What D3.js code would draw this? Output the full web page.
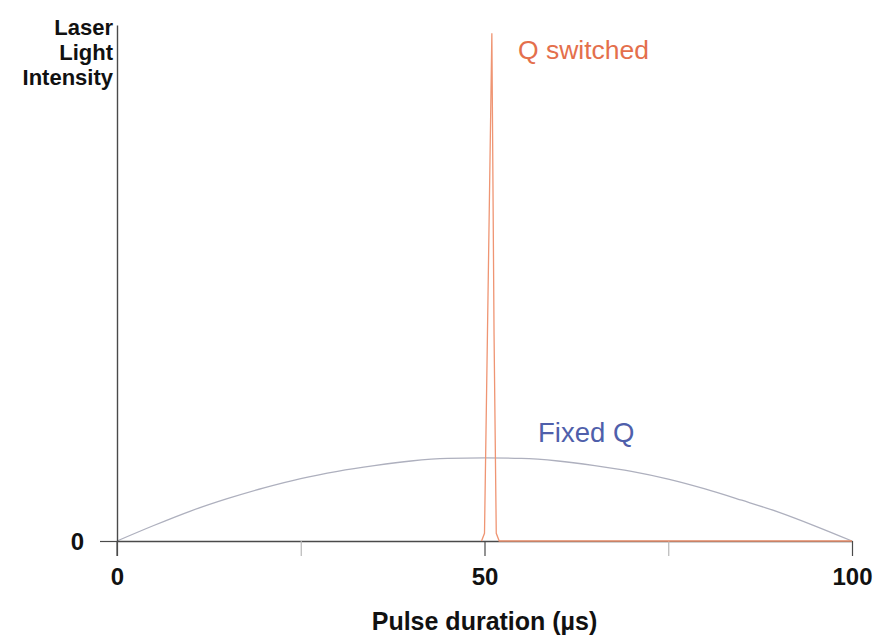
<!DOCTYPE html>
<html><head><meta charset="utf-8">
<script src="https://cdn.jsdelivr.net/npm/d3@7"></script>
<style>body{margin:0;background:#fff}svg{display:block}text{font-family:"Liberation Sans",Arial,sans-serif}</style>
</head><body><svg id="c" width="877" height="637"></svg>
<script>
const xTicks = [0, 25, 50, 75, 100];
const xTickLabels = ["0", "", "50", "", "100"];
const yTicks = [0];
const yTickLabels = ["0"];
const fixedX = [0, 5, 10, 15, 20, 25, 30, 35, 40, 45, 50, 55, 60, 65, 70, 75, 80, 85, 90, 95, 100];
const fixedY = [0, 3.0, 5.8, 8.2, 10.3, 12.1, 13.5, 14.6, 15.5, 16.0, 16.1, 16.0, 15.5, 14.6, 13.5, 12.0, 10.1, 7.9, 5.6, 2.9, 0];
const qX = [49.6, 50.0, 50.4, 51.0, 51.3, 51.6, 52.0, 100];
const qY = [0, 1.5, 40, 98.4, 40, 1.5, 0, 0];
const seriesNames = ["Q switched", "Fixed Q"];
const yTitle = ["Laser", "Light", "Intensity"];
const xTitle = "Pulse duration (µs)";

const svg = d3.select("#c");
const x = d3.scaleLinear().domain([0, 100]).range([117, 852]);
const y = d3.scaleLinear().domain([0, 100]).range([541, 25]);
const axisColor = "#4a4a4a";

// Fixed Q curve
const line = d3.line().x(d => x(d[0])).y(d => y(d[1])).curve(d3.curveMonotoneX);
svg.append("path").datum(fixedX.map((v, i) => [v, fixedY[i]]))
  .attr("d", line).attr("fill", "none").attr("stroke", "#aeb0be").attr("stroke-width", 1.3);

// x axis
const xa = svg.append("g").attr("transform", `translate(0,${y(0)})`)
  .call(d3.axisBottom(x).tickValues(xTicks).tickSize(15).tickSizeOuter(0)
    .tickFormat((d, i) => xTickLabels[i]));
xa.select(".domain").attr("stroke", axisColor).attr("stroke-width", 1.4);
xa.selectAll(".tick line").attr("stroke", (d, i) => xTickLabels[i] ? axisColor : "#b8b8b8").attr("stroke-width", 1.2);
xa.selectAll(".tick text").attr("font-size", 24).attr("font-weight", "bold").attr("fill", "#111").attr("dy", "1.0em")
  .attr("y", 20);

// y axis
const ya = svg.append("g").attr("transform", `translate(${x(0)},0)`)
  .call(d3.axisLeft(y).tickValues(yTicks).tickSize(17).tickSizeOuter(0)
    .tickFormat((d, i) => yTickLabels[i]));
ya.select(".domain").attr("stroke", axisColor).attr("stroke-width", 1.4);
ya.selectAll(".tick line").attr("stroke", axisColor).attr("stroke-width", 1.2);
ya.selectAll(".tick text").attr("font-size", 24).attr("font-weight", "bold").attr("fill", "#111").attr("x", -33).attr("dy", "0.35em");
svg.append("line").attr("x1", x(0)).attr("x2", x(0)).attr("y1", y(0)).attr("y2", y(0) + 15)
  .attr("stroke", axisColor).attr("stroke-width", 1.2);

// Q switched
const line2 = d3.line().x(d => x(d[0])).y(d => y(d[1]));
svg.append("path").datum(qX.map((v, i) => [v, qY[i]]))
  .attr("d", line2).attr("fill", "none").attr("stroke", "#ef9573").attr("stroke-width", 1.3);

// labels
svg.append("text").attr("x", 518).attr("y", 59).attr("font-size", 26.5).attr("fill", "#e46f4c").text(seriesNames[0]);
svg.append("text").attr("x", 538).attr("y", 442).attr("font-size", 27.5).attr("fill", "#4f5fab").text(seriesNames[1]);

yTitle.forEach((t, i) => svg.append("text").attr("text-anchor", "end").attr("font-size", 22)
  .attr("font-weight", "bold").attr("fill", "#111").attr("x", 113).attr("y", 35 + i * 25).text(t));

svg.append("text").attr("x", x(50)).attr("y", 630).attr("text-anchor", "middle").attr("font-size", 25).attr("font-weight", "bold").attr("fill", "#111").text(xTitle);
</script></body></html>
